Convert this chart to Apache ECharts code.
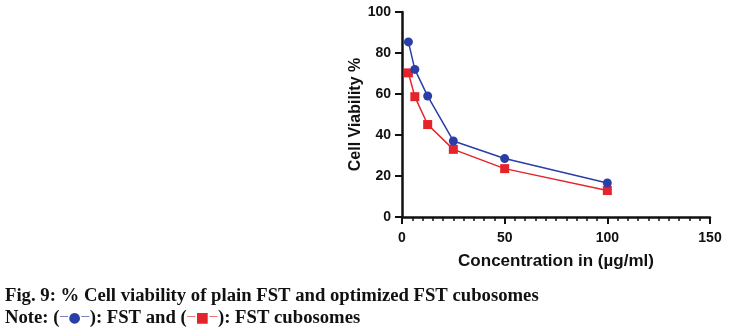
<!DOCTYPE html>
<html><head><meta charset="utf-8">
<script src="https://cdn.jsdelivr.net/npm/echarts@6/dist/echarts.min.js"></script>
<style>html,body{margin:0;padding:0;background:#fff}#c{width:729px;height:331px}</style>
</head><body><div id="c"></div>
<script>
const concentrations = [3.125, 6.25, 12.5, 25, 50, 100];
const fstValues = [85.4, 72.0, 59.0, 37.1, 28.5, 16.6];
const cubosomeValues = [70.3, 58.7, 45.1, 33.0, 23.6, 12.9];
const xTicks = [0, 50, 100, 150];
const yTicks = [0, 20, 40, 60, 80, 100];
const captionTitle = 'Fig. 9: % Cell viability of plain FST and optimized FST cubosomes';

const blue = '#2B3DA6', red = '#E5232B';
const chart = echarts.init(document.getElementById('c'));
const axisFont = {fontFamily: 'Liberation Sans, Arial', fontWeight: 'bold', color: '#111'};
const serif = 'Liberation Serif, Times New Roman';
chart.setOption({
  animation: false,
  grid: {left: 402, right: 19, top: 12, bottom: 114},
  xAxis: {
    type: 'value', min: xTicks[0], max: xTicks[xTicks.length-1], interval: 50,
    name: 'Concentration in (µg/ml)', nameLocation: 'middle', nameGap: 36,
    nameTextStyle: Object.assign({fontSize: 17}, axisFont),
    axisLine: {show: true, lineStyle: {color: '#111', width: 2.5}},
    axisTick: {show: true, length: 7, lineStyle: {color: '#111', width: 2}},
    minorTick: {show: true, splitNumber: 10, length: 4, lineStyle: {color: '#111', width: 1.5}},
    axisLabel: Object.assign({fontSize: 14, margin: 14}, axisFont),
    splitLine: {show: false}
  },
  yAxis: {
    type: 'value', min: yTicks[0], max: yTicks[yTicks.length-1], interval: 20,
    name: 'Cell Viability %', nameLocation: 'middle', nameGap: 37,
    nameTextStyle: Object.assign({fontSize: 16}, axisFont),
    axisLine: {show: true, lineStyle: {color: '#111', width: 2.5}},
    axisTick: {show: true, length: 7, lineStyle: {color: '#111', width: 2}},
    axisLabel: Object.assign({fontSize: 14, margin: 11}, axisFont),
    splitLine: {show: false}
  },
  series: [
    {type: 'line', name: 'FST', data: concentrations.map((x,i)=>[x, fstValues[i]]),
     symbol: 'circle', symbolSize: 9, itemStyle: {color: blue}, lineStyle: {color: blue, width: 1.5}, z: 3},
    {type: 'line', name: 'FST cubosomes', data: concentrations.map((x,i)=>[x, cubosomeValues[i]]),
     symbol: 'rect', symbolSize: 9, itemStyle: {color: red}, lineStyle: {color: red, width: 1.5}, z: 2}
  ],
  graphic: [
    {type: 'text', left: 5, top: 287, style: {text: captionTitle, fontFamily: serif, fontWeight: 'bold', fontSize: 18.7, fill: '#111'}},
    {type: 'text', left: 5, top: 309, style: {
      text: 'Note: ({bl|—}{b|●}{bl|—}): FST and ({rl|—}{r|■}{rl|—}): FST cubosomes',
      fontFamily: serif, fontWeight: 'bold', fontSize: 18.7, fill: '#111',
      rich: {
        bl: {fill: blue, fontSize: 9, fontFamily: 'DejaVu Sans', padding: [0, 0, 3, 0]},
        b: {fill: blue, fontSize: 14, fontFamily: 'DejaVu Sans'},
        rl: {fill: red, fontSize: 9, fontFamily: 'DejaVu Sans', padding: [0, 0, 3, 0]},
        r: {fill: red, fontSize: 14, fontFamily: 'DejaVu Sans'}
      }
    }}
  ]
});
</script></body></html>
